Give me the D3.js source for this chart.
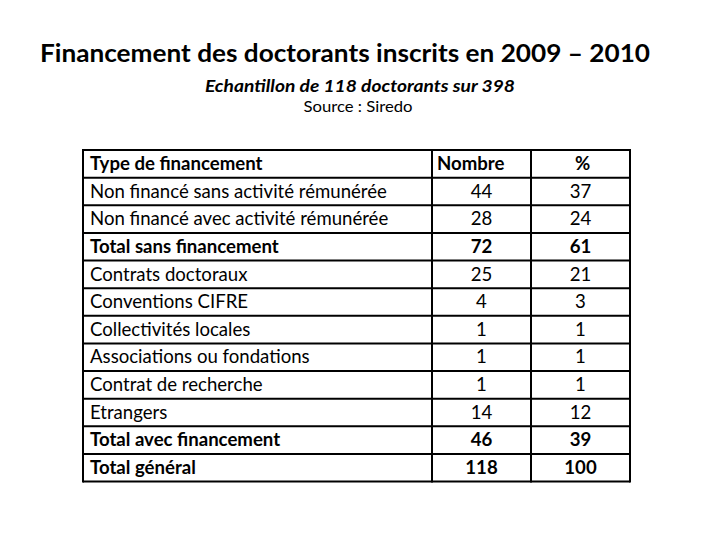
<!DOCTYPE html>
<html>
<head>
<meta charset="utf-8">
<script src="https://cdn.jsdelivr.net/npm/d3@7"></script>
<style>
  html, body { margin: 0; padding: 0; background: #fff; }
  svg { display: block; }
  text { font-family: Lato, "Open Sans", sans-serif; fill: #000; }
</style>
</head>
<body>
<svg id="chart" width="720" height="540"></svg>
<script>
// ---- data ----
const title = "Financement des doctorants inscrits en 2009 – 2010";
const subtitle = "Echantillon de 118 doctorants sur 398";
const source = "Source : Siredo";
const headers = ["Type de financement", "Nombre", "%"];
const categories = [
  "Non financé sans activité rémunérée",
  "Non financé avec activité rémunérée",
  "Total sans financement",
  "Contrats doctoraux",
  "Conventions CIFRE",
  "Collectivités locales",
  "Associations ou fondations",
  "Contrat de recherche",
  "Etrangers",
  "Total avec financement",
  "Total général"
];
const nombre = [44, 28, 72, 25, 4, 1, 1, 1, 14, 46, 118];
const pourcent = [37, 24, 61, 21, 3, 1, 1, 1, 12, 39, 100];
const totalRows = ["Total sans financement", "Total avec financement", "Total général"];

// ---- layout ----
const svg = d3.select("#chart");
const colEdges = [83, 432, 531, 630];
const tableTop = 150, tableBottom = 481.5;
const rowKeys = ["__header__", ...categories];

const y = d3.scaleBand().domain(rowKeys).range([tableTop, tableBottom]).padding(0);

// titles
svg.append("text").attr("x", 40).attr("y", 62)
  .attr("font-size", 25).attr("font-weight", "bold")
  .attr("textLength", 610).attr("lengthAdjust", "spacingAndGlyphs")
  .text(title);
svg.append("text").attr("x", 360).attr("y", 92).attr("text-anchor", "middle")
  .attr("font-size", 17.5).attr("font-weight", "bold").attr("font-style", "italic")
  .attr("textLength", 310).attr("lengthAdjust", "spacingAndGlyphs")
  .text(subtitle);
svg.append("text").attr("x", 358).attr("y", 112).attr("text-anchor", "middle")
  .attr("font-size", 15)
  .attr("textLength", 109).attr("lengthAdjust", "spacingAndGlyphs")
  .text(source);

// table grid
const g = svg.append("g");
const hLines = rowKeys.map(k => y(k)).concat([tableBottom]);
g.selectAll("line.h").data(hLines).join("line")
  .attr("class", "h")
  .attr("x1", colEdges[0]).attr("x2", colEdges[3])
  .attr("y1", d => d).attr("y2", d => d)
  .attr("stroke", "#000").attr("stroke-width", 2);
g.selectAll("line.v").data(colEdges).join("line")
  .attr("class", "v")
  .attr("x1", d => d).attr("x2", d => d)
  .attr("y1", tableTop - 1).attr("y2", tableBottom + 1)
  .attr("stroke", "#000").attr("stroke-width", 2);

const fs = 18.6;
const baseOff = 20;

// header
svg.append("text").attr("x", 90).attr("y", y("__header__") + baseOff)
  .attr("font-size", fs).attr("font-weight", "bold").text(headers[0]);
svg.append("text").attr("x", 437).attr("y", y("__header__") + baseOff)
  .attr("font-size", fs).attr("font-weight", "bold").text(headers[1]);
svg.append("text").attr("x", (colEdges[2] + colEdges[3]) / 2 + 2).attr("y", y("__header__") + baseOff)
  .attr("text-anchor", "middle")
  .attr("font-size", fs).attr("font-weight", "bold").text(headers[2]);

// rows
const rows = categories.map((c, i) => ({ c, n: nombre[i], p: pourcent[i], bold: totalRows.includes(c) }));
const rg = svg.selectAll("g.row").data(rows).join("g").attr("class", "row")
  .attr("transform", d => `translate(0,${y(d.c) + baseOff})`)
  .attr("font-size", fs)
  .attr("font-weight", d => d.bold ? "bold" : "normal");
rg.append("text").attr("x", 90).text(d => d.c);
rg.append("text").attr("x", (colEdges[1] + colEdges[2]) / 2).attr("text-anchor", "middle").text(d => d.n);
rg.append("text").attr("x", (colEdges[2] + colEdges[3]) / 2).attr("text-anchor", "middle").text(d => d.p);
</script>
</body>
</html>
